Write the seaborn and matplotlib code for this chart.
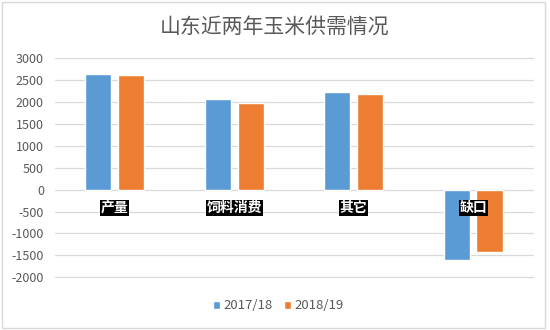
import matplotlib
matplotlib.use("Agg")
import matplotlib.pyplot as plt
from matplotlib.patches import Rectangle
import seaborn as sns
import pandas as pd

categories = ["产量", "饲料消费", "其它", "缺口"]
seasons = ["2017/18", "2018/19"]
values_1718 = [2650, 2080, 2230, -1600]
values_1819 = [2610, 1970, 2180, -1430]
y_ticks = [3000, 2500, 2000, 1500, 1000, 500, 0, -500, -1000, -1500, -2000]

colors = ["#5B9BD5", "#ED7D31"]

df = pd.DataFrame({
    "类别": categories * 2,
    "年度": [seasons[0]] * len(categories) + [seasons[1]] * len(categories),
    "数量": values_1718 + values_1819,
})

sns.set_theme(style="white")
plt.rcParams["font.family"] = ["Noto Sans CJK SC", "DejaVu Sans"]

fig = plt.figure(figsize=(5.5, 3.3), dpi=100)
ax = fig.add_axes([0.1, 0.16, 0.869, 0.663])

sns.barplot(data=df, x="类别", y="数量", hue="年度", order=categories,
            hue_order=seasons, palette=colors, width=0.55, gap=0.2,
            saturation=1, ax=ax, legend=True)

ax.set_xlim(-0.5, len(categories) - 0.5)
ax.set_ylim(-2000, 3000)
ax.set_yticks(y_ticks)
ax.set_yticklabels([str(v) for v in y_ticks], color="#595959", fontsize=9)
ax.tick_params(axis="y", length=0, pad=8)
ax.set_xticks([])
ax.set_xlabel("")
ax.set_ylabel("")
for s in ax.spines.values():
    s.set_visible(False)
for v in y_ticks:
    ax.axhline(v, color="#D9D9D9", lw=0.9, zorder=0, clip_on=False)

# category names in black boxes just under the zero line
for i, c in enumerate(categories):
    ax.text(i, -420, c, ha="center", va="center", color="white",
            fontsize=10, fontweight="bold",
            bbox=dict(boxstyle="square,pad=0.05", fc="black", ec="none"))

fig.text(0.5, 0.918, "山东近两年玉米供需情况", ha="center", va="center",
         fontsize=15, color="#595959")

handles, labels = ax.get_legend_handles_labels()
ax.get_legend().remove()
leg = fig.legend(handles, labels, loc="center", bbox_to_anchor=(0.506, 0.073),
                 ncol=2, frameon=False, fontsize=9.5, handlelength=0.55,
                 handleheight=0.55, columnspacing=0.9, handletextpad=0.25)
for t in leg.get_texts():
    t.set_color("#595959")

fig.patches.append(Rectangle((0.003, 0.006), 0.987, 0.988, transform=fig.transFigure,
                             fill=False, ec="#D9D9D9", lw=1))

fig.savefig("out.png", dpi=100)
